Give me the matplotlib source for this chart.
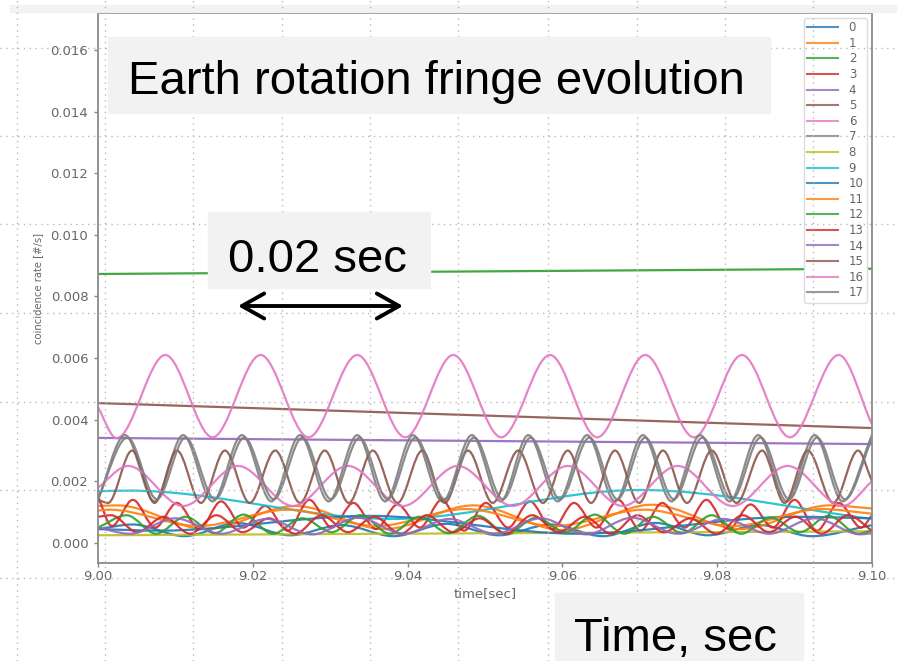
import matplotlib
matplotlib.use("Agg")
import matplotlib.pyplot as plt
from matplotlib.path import Path
from matplotlib.patches import PathPatch, Rectangle, FancyArrowPatch
from matplotlib.lines import Line2D

# values: extrema of every trace (time, rate)
t0 = [9.0000, 9.0045, 9.0112, 9.0180, 9.0248, 9.0315, 9.0382, 9.0450, 9.0518, 9.0585, 9.0652, 9.0720, 9.0788, 9.0855, 9.0922, 9.1000]
v0 = [0.00045, 0.00060, 0.00022, 0.00065, 0.00025, 0.00058, 0.00022, 0.00062, 0.00025, 0.00060, 0.00022, 0.00065, 0.00025, 0.00058, 0.00022, 0.00058]

t1 = [9.0000, 9.0025, 9.0140, 9.0255, 9.0370, 9.0485, 9.0600, 9.0715, 9.0830, 9.0945, 9.1000]
v1 = [0.00120, 0.00122, 0.00045, 0.00120, 0.00045, 0.00122, 0.00042, 0.00124, 0.00045, 0.00122, 0.00112]

t2 = [9.00, 9.10]
v2 = [0.00873, 0.00890]

t3 = [9.0000, 9.0018, 9.0045, 9.0074, 9.0102, 9.0131, 9.0159, 9.0188, 9.0216, 9.0245, 9.0273, 9.0302,
      9.0330, 9.0359, 9.0387, 9.0416, 9.0444, 9.0473, 9.0501, 9.0530, 9.0558, 9.0587, 9.0615, 9.0644,
      9.0672, 9.0701, 9.0729, 9.0758, 9.0786, 9.0815, 9.0843, 9.0872, 9.0900, 9.0929, 9.0957, 9.0986, 9.1000]
v3 = [0.00150, 0.00055, 0.00140, 0.00050, 0.00130, 0.00045, 0.00135, 0.00050, 0.00120, 0.00040, 0.00140, 0.00050,
      0.00130, 0.00045, 0.00125, 0.00050, 0.00140, 0.00040, 0.00130, 0.00050, 0.00135, 0.00045, 0.00130, 0.00050,
      0.00140, 0.00040, 0.00130, 0.00050, 0.00140, 0.00045, 0.00125, 0.00050, 0.00140, 0.00040, 0.00130, 0.00050, 0.00090]

t4 = [9.00, 9.10]
v4 = [0.00341, 0.00321]

t5 = [9.00, 9.10]
v5 = [0.00454, 0.00373]

t6 = [9.0000, 9.0024, 9.0087, 9.0148, 9.0210, 9.0272, 9.0335, 9.0397, 9.0459, 9.0521, 9.0584, 9.0645,
      9.0707, 9.0770, 9.0832, 9.0894, 9.0957, 9.1000]
v6 = [0.00440, 0.00340, 0.00610, 0.00343, 0.00610, 0.00343, 0.00610, 0.00343, 0.00610, 0.00343, 0.00610, 0.00343,
      0.00610, 0.00343, 0.00610, 0.00343, 0.00610, 0.00385]

t7 = [9.0000, 9.0035, 9.0073, 9.0110, 9.0148, 9.0186, 9.0224, 9.0261, 9.0298, 9.0335, 9.0371, 9.0407, 9.0445, 9.0483,
      9.0520, 9.0556, 9.0594, 9.0632, 9.0668, 9.0704, 9.0741, 9.0778, 9.0816, 9.0853, 9.0890, 9.0926, 9.0962, 9.1000]
v7 = [0.00140, 0.00350, 0.00135, 0.00350, 0.00135, 0.00350, 0.00135, 0.00350, 0.00135, 0.00350, 0.00135, 0.00350, 0.00135, 0.00350,
      0.00135, 0.00350, 0.00135, 0.00350, 0.00135, 0.00350, 0.00135, 0.00350, 0.00135, 0.00350, 0.00135, 0.00350, 0.00135, 0.00350]

t8 = [9.00, 9.10]
v8 = [0.00025, 0.00038]

t9 = [9.000, 9.004, 9.038, 9.070, 9.100]
v9 = [0.00168, 0.00170, 0.00078, 0.00172, 0.00078]

t10 = [9.000, 9.008, 9.035, 9.062, 9.090, 9.100]
v10 = [0.00045, 0.00040, 0.00088, 0.00030, 0.00085, 0.00080]

t11 = [9.0000, 9.0015, 9.0130, 9.0245, 9.0360, 9.0475, 9.0590, 9.0705, 9.0820, 9.0935, 9.1000]
v11 = [0.00105, 0.00108, 0.00055, 0.00108, 0.00055, 0.00110, 0.00055, 0.00108, 0.00055, 0.00110, 0.00095]

t12 = [9.0000, 9.0037, 9.0075, 9.0113, 9.0151, 9.0188, 9.0226, 9.0264, 9.0302, 9.0339, 9.0377, 9.0415, 9.0453, 9.0491,
       9.0528, 9.0566, 9.0604, 9.0642, 9.0680, 9.0717, 9.0755, 9.0793, 9.0831, 9.0869, 9.0907, 9.0944, 9.0982, 9.1000]
v12 = [0.00050, 0.00090, 0.00030, 0.00085, 0.00032, 0.00092, 0.00030, 0.00080, 0.00035, 0.00090, 0.00030, 0.00085, 0.00032, 0.00088,
       0.00030, 0.00082, 0.00035, 0.00092, 0.00030, 0.00085, 0.00032, 0.00090, 0.00030, 0.00082, 0.00035, 0.00088, 0.00030, 0.00040]

t13 = [9.0000, 9.0017, 9.0051, 9.0085, 9.0119, 9.0153, 9.0187, 9.0221, 9.0255, 9.0289, 9.0323, 9.0357, 9.0391, 9.0425, 9.0459,
       9.0493, 9.0527, 9.0561, 9.0595, 9.0629, 9.0663, 9.0697, 9.0731, 9.0765, 9.0799, 9.0833, 9.0867, 9.0901, 9.0935, 9.0969, 9.1000]
v13 = [0.00085, 0.00090, 0.00035, 0.00085, 0.00030, 0.00090, 0.00035, 0.00080, 0.00030, 0.00090, 0.00035, 0.00085, 0.00030, 0.00090, 0.00035,
       0.00080, 0.00030, 0.00090, 0.00035, 0.00085, 0.00030, 0.00090, 0.00035, 0.00080, 0.00030, 0.00090, 0.00035, 0.00085, 0.00030, 0.00090, 0.00040]

t14 = [9.0000, 9.0041, 9.0100, 9.0159, 9.0218, 9.0277, 9.0336, 9.0395, 9.0454, 9.0513, 9.0572, 9.0631, 9.0690, 9.0749,
       9.0808, 9.0867, 9.0926, 9.0985, 9.1000]
v14 = [0.00050, 0.00030, 0.00080, 0.00030, 0.00078, 0.00028, 0.00082, 0.00030, 0.00078, 0.00030, 0.00080, 0.00028, 0.00082, 0.00030,
       0.00078, 0.00030, 0.00080, 0.00028, 0.00032]

t15 = [9.0000, 9.0013, 9.0044, 9.0073, 9.0102, 9.0133, 9.0164, 9.0196, 9.0229, 9.0261, 9.0293, 9.0324, 9.0355, 9.0387, 9.0419, 9.0448, 9.0478,
       9.0510, 9.0543, 9.0575, 9.0607, 9.0637, 9.0668, 9.0699, 9.0730, 9.0761, 9.0793, 9.0825, 9.0858, 9.0887, 9.0917, 9.0950, 9.0982, 9.1000]
v15 = [0.00140, 0.00130, 0.00300, 0.00130, 0.00300, 0.00130, 0.00300, 0.00130, 0.00300, 0.00130, 0.00300, 0.00130, 0.00300, 0.00130, 0.00300, 0.00130, 0.00300,
       0.00130, 0.00300, 0.00130, 0.00300, 0.00130, 0.00300, 0.00130, 0.00300, 0.00130, 0.00300, 0.00130, 0.00300, 0.00130, 0.00300, 0.00130, 0.00300, 0.00200]

t16 = [9.0000, 9.0039, 9.0110, 9.0181, 9.0252, 9.0323, 9.0394, 9.0465, 9.0536, 9.0607, 9.0678, 9.0749, 9.0820, 9.0891, 9.0962, 9.1000]
v16 = [0.00180, 0.00250, 0.00120, 0.00250, 0.00120, 0.00250, 0.00120, 0.00250, 0.00120, 0.00250, 0.00120, 0.00250, 0.00120, 0.00250, 0.00120, 0.00200]

t17 = [9.0000, 9.0038, 9.0076, 9.0113, 9.0151, 9.0189, 9.0227, 9.0264, 9.0301, 9.0338, 9.0374, 9.0410, 9.0448, 9.0486,
       9.0523, 9.0559, 9.0597, 9.0635, 9.0671, 9.0707, 9.0744, 9.0781, 9.0819, 9.0856, 9.0893, 9.0929, 9.0965, 9.1000]
v17 = [0.00145, 0.00342, 0.00142, 0.00342, 0.00142, 0.00342, 0.00142, 0.00342, 0.00142, 0.00342, 0.00142, 0.00342, 0.00142, 0.00342,
       0.00142, 0.00342, 0.00142, 0.00342, 0.00142, 0.00342, 0.00142, 0.00342, 0.00142, 0.00342, 0.00142, 0.00342, 0.00142, 0.00340]

series_labels = ['0', '1', '2', '3', '4', '5', '6', '7', '8', '9', '10', '11', '12', '13', '14', '15', '16', '17']
series_colors = ['C0', 'C1', 'C2', 'C3', 'C4', 'C5', 'C6', 'C7', 'C8', 'C9',
                 'C0', 'C1', 'C2', 'C3', 'C4', 'C5', 'C6', 'C7']
time_ticks = [9.00, 9.02, 9.04, 9.06, 9.08, 9.10]
rate_ticks = [0.000, 0.002, 0.004, 0.006, 0.008, 0.010, 0.012, 0.014, 0.016]

times = [t0, t1, t2, t3, t4, t5, t6, t7, t8, t9, t10, t11, t12, t13, t14, t15, t16, t17]
rates = [v0, v1, v2, v3, v4, v5, v6, v7, v8, v9, v10, v11, v12, v13, v14, v15, v16, v17]


def smooth_path(t, v):
    # cubic pieces between the read extrema, flat tangent at each extremum
    n = len(t)
    slope = [0.0] * n
    slope[0] = (v[1] - v[0]) / (t[1] - t[0])
    slope[-1] = (v[-1] - v[-2]) / (t[-1] - t[-2])
    verts = [(t[0], v[0])]
    codes = [Path.MOVETO]
    for i in range(n - 1):
        dt = t[i + 1] - t[i]
        verts += [(t[i] + dt / 3, v[i] + slope[i] * dt / 3),
                  (t[i + 1] - dt / 3, v[i + 1] - slope[i + 1] * dt / 3),
                  (t[i + 1], v[i + 1])]
        codes += [Path.CURVE4] * 3
    return Path(verts, codes)


W, H = 897, 661
fig = plt.figure(figsize=(W / 100, H / 100), dpi=100)
ax = fig.add_axes([98 / W, 1 - 563 / H, 774 / W, 550 / H])

gray_txt = '#666666'
handles = []
for t, v, c, lab in zip(times, rates, series_colors, series_labels):
    ax.add_patch(PathPatch(smooth_path(t, v), fill=False, edgecolor=c, lw=1.6, alpha=0.9))
    handles.append(Line2D([], [], color=c, lw=1.5, alpha=0.8, label=lab))

ax.set_xlim(9.00, 9.10)
ax.set_ylim(-0.00065, 0.0172)
ax.set_xticks(time_ticks)
ax.set_xticklabels(['%.2f' % x for x in time_ticks])
ax.set_yticks(rate_ticks)
ax.set_yticklabels(['%.3f' % y for y in rate_ticks])
ax.tick_params(axis='both', colors='#888888', labelcolor=gray_txt, labelsize=9.5, length=3, width=1)
ax.tick_params(axis='x', pad=2)
ax.tick_params(axis='y', pad=4)
for s in ax.spines.values():
    s.set_color('#8a8a8a')
    s.set_linewidth(1.3)
ax.set_xlabel('time[sec]', fontsize=9.5, color=gray_txt, labelpad=3)
ax.set_ylabel('coincidence rate [#/s]', fontsize=7.2, color=gray_txt, labelpad=5.5)

leg = ax.legend(handles=handles, loc='upper right', fontsize=8.5, labelcolor=gray_txt,
                handlelength=2.6, handletextpad=0.9, labelspacing=0.22, borderpad=0.3,
                borderaxespad=0.4, framealpha=1, edgecolor='#dddddd', fancybox=True)

# slide background: faint band on top and the dotted layout grid
fig.add_artist(Rectangle((10 / W, 1 - 12 / H), 1, 7 / H, transform=fig.transFigure,
                         color='#f2f2f2', zorder=4))
grid_x = [17, 105, 193, 282, 370, 458, 548, 637, 725, 813]
grid_y = [48, 136, 224, 313, 402, 490, 578]
for gx in grid_x:
    fig.add_artist(Line2D([gx / W, gx / W], [0, 1], transform=fig.transFigure,
                          color='#b8b8b8', lw=1, ls=(0, (1, 3.2)), zorder=5))
for gy in grid_y:
    fig.add_artist(Line2D([0, 1], [1 - gy / H, 1 - gy / H], transform=fig.transFigure,
                          color='#b8b8b8', lw=1, ls=(0, (1, 3.2)), zorder=5))

# annotation boxes pasted on the slide
boxes = [(108, 37, 770, 113), (208, 212, 430, 288), (555, 593, 803, 661)]
for x0, y0, x1, y1 in boxes:
    fig.add_artist(Rectangle((x0 / W, 1 - y1 / H), (x1 - x0) / W, (y1 - y0) / H,
                             transform=fig.transFigure, color='#f2f2f2', zorder=6))

font_big = dict(fontsize=34, family='Liberation Sans', color='black', va='baseline', ha='left', zorder=7)
fig.text(128 / W, 1 - 94 / H, 'Earth rotation fringe evolution', **font_big)
fig.text(228 / W, 1 - 272 / H, '0.02 sec', **font_big)
fig.text(574 / W, 1 - 651 / H, 'Time, sec', **font_big)

arrow = FancyArrowPatch((238 / W, 1 - 306 / H), (403 / W, 1 - 306 / H), transform=fig.transFigure,
                        arrowstyle='<->,head_length=0.8,head_width=0.45', mutation_scale=20,
                        lw=2.8, color='black', shrinkA=0, shrinkB=0, zorder=7)
fig.add_artist(arrow)

fig.savefig('out.png', dpi=100)
